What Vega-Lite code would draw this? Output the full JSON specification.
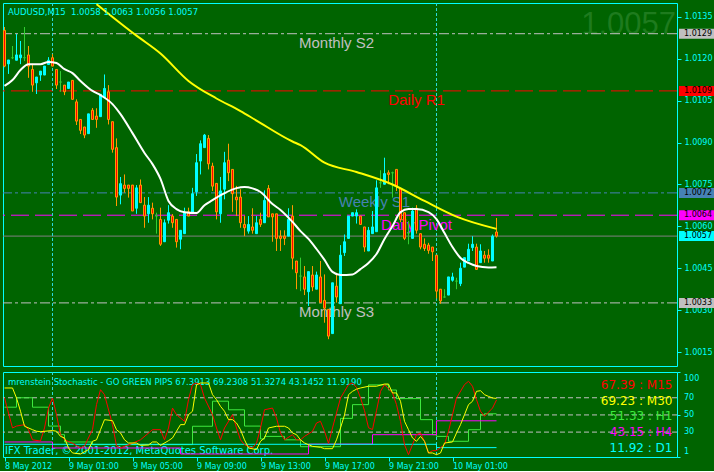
{
"$schema":"https://vega.github.io/schema/vega-lite/v6.json",
"background":"#006400",
"padding":{"left":2,"top":2,"right":0,"bottom":0},
"spacing":4,
"config":{"view":{"stroke":"#00FFFF","strokeWidth":1},"legend":{"disable":true},
 "scale":{"continuousPadding":0},
 "axis":{"labelFont":"DejaVu Sans","labelFontSize":8,"labelColor":"#00FFFF","tickColor":"#00FFFF","domain":false,"grid":false,"labelOverlap":false}},
"datasets":{
"candles":[
{"t":"2012-05-08T21:00Z","o":1.01302,"h":1.01314,"l":1.0117,"c":1.01174},
{"t":"2012-05-08T21:15Z","o":1.01182,"h":1.01196,"l":1.01146,"c":1.01196},
{"t":"2012-05-08T21:30Z","o":1.01204,"h":1.01246,"l":1.01199,"c":1.01204},
{"t":"2012-05-08T21:45Z","o":1.01195,"h":1.01289,"l":1.01195,"c":1.01214},
{"t":"2012-05-08T22:00Z","o":1.01204,"h":1.01264,"l":1.01181,"c":1.01214},
{"t":"2012-05-08T22:15Z","o":1.01204,"h":1.01314,"l":1.01192,"c":1.01204},
{"t":"2012-05-08T22:30Z","o":1.01214,"h":1.01246,"l":1.01132,"c":1.01174},
{"t":"2012-05-08T22:45Z","o":1.01162,"h":1.01182,"l":1.01082,"c":1.01106},
{"t":"2012-05-08T23:00Z","o":1.01114,"h":1.01135,"l":1.01074,"c":1.01135},
{"t":"2012-05-08T23:15Z","o":1.01142,"h":1.01156,"l":1.01121,"c":1.01156},
{"t":"2012-05-08T23:30Z","o":1.01142,"h":1.01174,"l":1.01142,"c":1.01174},
{"t":"2012-05-08T23:45Z","o":1.0118,"h":1.01206,"l":1.0118,"c":1.01195},
{"t":"2012-05-09T00:00Z","o":1.01204,"h":1.01217,"l":1.01174,"c":1.01174},
{"t":"2012-05-09T00:15Z","o":1.01162,"h":1.01162,"l":1.01092,"c":1.01106},
{"t":"2012-05-09T00:30Z","o":1.01117,"h":1.01156,"l":1.01082,"c":1.01117},
{"t":"2012-05-09T00:45Z","o":1.01106,"h":1.01106,"l":1.0107,"c":1.01082},
{"t":"2012-05-09T01:00Z","o":1.01094,"h":1.01117,"l":1.01094,"c":1.01117},
{"t":"2012-05-09T01:15Z","o":1.01123,"h":1.01123,"l":1.01055,"c":1.01055},
{"t":"2012-05-09T01:30Z","o":1.01046,"h":1.01055,"l":1.00963,"c":1.00977},
{"t":"2012-05-09T01:45Z","o":1.00983,"h":1.00983,"l":1.00931,"c":1.00944},
{"t":"2012-05-09T02:00Z","o":1.00956,"h":1.00956,"l":1.00916,"c":1.00927},
{"t":"2012-05-09T02:15Z","o":1.00932,"h":1.01003,"l":1.00932,"c":1.01003},
{"t":"2012-05-09T02:30Z","o":1.01016,"h":1.01024,"l":1.00983,"c":1.00983},
{"t":"2012-05-09T02:45Z","o":1.00995,"h":1.01023,"l":1.00953,"c":1.00983},
{"t":"2012-05-09T03:00Z","o":1.00993,"h":1.01073,"l":1.00993,"c":1.01073},
{"t":"2012-05-09T03:15Z","o":1.01061,"h":1.01144,"l":1.01061,"c":1.01094},
{"t":"2012-05-09T03:30Z","o":1.01082,"h":1.01106,"l":1.00965,"c":1.00983},
{"t":"2012-05-09T03:45Z","o":1.00975,"h":1.00975,"l":1.00864,"c":1.00876},
{"t":"2012-05-09T04:00Z","o":1.00882,"h":1.00915,"l":1.00673,"c":1.00705},
{"t":"2012-05-09T04:15Z","o":1.00712,"h":1.00777,"l":1.00679,"c":1.00753},
{"t":"2012-05-09T04:30Z","o":1.00748,"h":1.00786,"l":1.00721,"c":1.00736},
{"t":"2012-05-09T04:45Z","o":1.00748,"h":1.00748,"l":1.00703,"c":1.00736},
{"t":"2012-05-09T05:00Z","o":1.00748,"h":1.00748,"l":1.00655,"c":1.00655},
{"t":"2012-05-09T05:15Z","o":1.00665,"h":1.00748,"l":1.00645,"c":1.00738},
{"t":"2012-05-09T05:30Z","o":1.00748,"h":1.00768,"l":1.00685,"c":1.00685},
{"t":"2012-05-09T05:45Z","o":1.00676,"h":1.00705,"l":1.00595,"c":1.00637},
{"t":"2012-05-09T06:00Z","o":1.00645,"h":1.00705,"l":1.00613,"c":1.00676},
{"t":"2012-05-09T06:15Z","o":1.00665,"h":1.00685,"l":1.00625,"c":1.00645},
{"t":"2012-05-09T06:30Z","o":1.00637,"h":1.00649,"l":1.00574,"c":1.00637},
{"t":"2012-05-09T06:45Z","o":1.00625,"h":1.00667,"l":1.0053,"c":1.00536},
{"t":"2012-05-09T07:00Z","o":1.00545,"h":1.00625,"l":1.00545,"c":1.00613},
{"t":"2012-05-09T07:15Z","o":1.00622,"h":1.00676,"l":1.0061,"c":1.00649},
{"t":"2012-05-09T07:30Z","o":1.00637,"h":1.00644,"l":1.00595,"c":1.00613},
{"t":"2012-05-09T07:45Z","o":1.00625,"h":1.00625,"l":1.00524,"c":1.00545},
{"t":"2012-05-09T08:00Z","o":1.00554,"h":1.00586,"l":1.00518,"c":1.00586},
{"t":"2012-05-09T08:15Z","o":1.00574,"h":1.00667,"l":1.00574,"c":1.00649},
{"t":"2012-05-09T08:30Z","o":1.00652,"h":1.00667,"l":1.00637,"c":1.00637},
{"t":"2012-05-09T08:45Z","o":1.00649,"h":1.00738,"l":1.00645,"c":1.00717},
{"t":"2012-05-09T09:00Z","o":1.00724,"h":1.00859,"l":1.00709,"c":1.00828},
{"t":"2012-05-09T09:15Z","o":1.00834,"h":1.00908,"l":1.00786,"c":1.00896},
{"t":"2012-05-09T09:30Z","o":1.00882,"h":1.00931,"l":1.00882,"c":1.00927},
{"t":"2012-05-09T09:45Z","o":1.00915,"h":1.00927,"l":1.00804,"c":1.00824},
{"t":"2012-05-09T10:00Z","o":1.00816,"h":1.00828,"l":1.00727,"c":1.00744},
{"t":"2012-05-09T10:15Z","o":1.00754,"h":1.00754,"l":1.00625,"c":1.00652},
{"t":"2012-05-09T10:30Z","o":1.00645,"h":1.00777,"l":1.00613,"c":1.00727},
{"t":"2012-05-09T10:45Z","o":1.00733,"h":1.00867,"l":1.00697,"c":1.00828},
{"t":"2012-05-09T11:00Z","o":1.00837,"h":1.00896,"l":1.00762,"c":1.00792},
{"t":"2012-05-09T11:15Z","o":1.00804,"h":1.00804,"l":1.00652,"c":1.00717},
{"t":"2012-05-09T11:30Z","o":1.00705,"h":1.00745,"l":1.00637,"c":1.00695},
{"t":"2012-05-09T11:45Z","o":1.00705,"h":1.00733,"l":1.00595,"c":1.00613},
{"t":"2012-05-09T12:00Z","o":1.00607,"h":1.00637,"l":1.00565,"c":1.00595},
{"t":"2012-05-09T12:15Z","o":1.00583,"h":1.00637,"l":1.00574,"c":1.00607},
{"t":"2012-05-09T12:30Z","o":1.00598,"h":1.00665,"l":1.00574,"c":1.00586},
{"t":"2012-05-09T12:45Z","o":1.00574,"h":1.00637,"l":1.00574,"c":1.00613},
{"t":"2012-05-09T13:00Z","o":1.00625,"h":1.00649,"l":1.00598,"c":1.00607},
{"t":"2012-05-09T13:15Z","o":1.00613,"h":1.00729,"l":1.00613,"c":1.00693},
{"t":"2012-05-09T13:30Z","o":1.00736,"h":1.00748,"l":1.00634,"c":1.00634},
{"t":"2012-05-09T13:45Z","o":1.00645,"h":1.00645,"l":1.00545,"c":1.00634},
{"t":"2012-05-09T14:00Z","o":1.00645,"h":1.00645,"l":1.00512,"c":1.00557},
{"t":"2012-05-09T14:15Z","o":1.00565,"h":1.00586,"l":1.00512,"c":1.00557},
{"t":"2012-05-09T14:30Z","o":1.00565,"h":1.00586,"l":1.00533,"c":1.00557},
{"t":"2012-05-09T14:45Z","o":1.00565,"h":1.00665,"l":1.00565,"c":1.00625},
{"t":"2012-05-09T15:00Z","o":1.00637,"h":1.00676,"l":1.00446,"c":1.00486},
{"t":"2012-05-09T15:15Z","o":1.00476,"h":1.00476,"l":1.00375,"c":1.00434},
{"t":"2012-05-09T15:30Z","o":1.00422,"h":1.00488,"l":1.00368,"c":1.00422},
{"t":"2012-05-09T15:45Z","o":1.00419,"h":1.00458,"l":1.00354,"c":1.00375},
{"t":"2012-05-09T16:00Z","o":1.00366,"h":1.00438,"l":1.00315,"c":1.00438},
{"t":"2012-05-09T16:15Z","o":1.00426,"h":1.00458,"l":1.00368,"c":1.00383},
{"t":"2012-05-09T16:30Z","o":1.00375,"h":1.00438,"l":1.00375,"c":1.00426},
{"t":"2012-05-09T16:45Z","o":1.00419,"h":1.00476,"l":1.00327,"c":1.00327},
{"t":"2012-05-09T17:00Z","o":1.00335,"h":1.00428,"l":1.00255,"c":1.00307},
{"t":"2012-05-09T17:15Z","o":1.00303,"h":1.00303,"l":1.00196,"c":1.00207},
{"t":"2012-05-09T17:30Z","o":1.00216,"h":1.00398,"l":1.00216,"c":1.00398},
{"t":"2012-05-09T17:45Z","o":1.00386,"h":1.00434,"l":1.00327,"c":1.00347},
{"t":"2012-05-09T18:00Z","o":1.00323,"h":1.00533,"l":1.00323,"c":1.00497},
{"t":"2012-05-09T18:15Z","o":1.00506,"h":1.00571,"l":1.00494,"c":1.00545},
{"t":"2012-05-09T18:30Z","o":1.00557,"h":1.00637,"l":1.00557,"c":1.00637},
{"t":"2012-05-09T18:45Z","o":1.00637,"h":1.00649,"l":1.00637,"c":1.00649},
{"t":"2012-05-09T19:00Z","o":1.00637,"h":1.00661,"l":1.0061,"c":1.00649},
{"t":"2012-05-09T19:15Z","o":1.00637,"h":1.00637,"l":1.00607,"c":1.00607},
{"t":"2012-05-09T19:30Z","o":1.00598,"h":1.00598,"l":1.00509,"c":1.00526},
{"t":"2012-05-09T19:45Z","o":1.00512,"h":1.00598,"l":1.00512,"c":1.00586},
{"t":"2012-05-09T20:00Z","o":1.00574,"h":1.00655,"l":1.00574,"c":1.00598},
{"t":"2012-05-09T20:15Z","o":1.00581,"h":1.00765,"l":1.00581,"c":1.00738},
{"t":"2012-05-09T20:30Z","o":1.00756,"h":1.00801,"l":1.00738,"c":1.00756},
{"t":"2012-05-09T20:45Z","o":1.00751,"h":1.00846,"l":1.00751,"c":1.00789},
{"t":"2012-05-09T21:00Z","o":1.00792,"h":1.00801,"l":1.00751,"c":1.00786},
{"t":"2012-05-09T21:15Z","o":1.00792,"h":1.00796,"l":1.00703,"c":1.00792},
{"t":"2012-05-09T21:30Z","o":1.00804,"h":1.00804,"l":1.00727,"c":1.00744},
{"t":"2012-05-09T21:45Z","o":1.00736,"h":1.00736,"l":1.00615,"c":1.00625},
{"t":"2012-05-09T22:00Z","o":1.00649,"h":1.00649,"l":1.00551,"c":1.00557},
{"t":"2012-05-09T22:15Z","o":1.00576,"h":1.00619,"l":1.00536,"c":1.00576},
{"t":"2012-05-09T22:30Z","o":1.00557,"h":1.00667,"l":1.00557,"c":1.00655},
{"t":"2012-05-09T22:45Z","o":1.00665,"h":1.00676,"l":1.00574,"c":1.00586},
{"t":"2012-05-09T23:00Z","o":1.00574,"h":1.00574,"l":1.00518,"c":1.00526},
{"t":"2012-05-09T23:15Z","o":1.00536,"h":1.00557,"l":1.00512,"c":1.00521},
{"t":"2012-05-09T23:30Z","o":1.00533,"h":1.00541,"l":1.00502,"c":1.00514},
{"t":"2012-05-09T23:45Z","o":1.00526,"h":1.00526,"l":1.00476,"c":1.00509},
{"t":"2012-05-10T00:00Z","o":1.00497,"h":1.00497,"l":1.00342,"c":1.00368},
{"t":"2012-05-10T00:15Z","o":1.00375,"h":1.00375,"l":1.00323,"c":1.00333},
{"t":"2012-05-10T00:30Z","o":1.00347,"h":1.00375,"l":1.00345,"c":1.00347},
{"t":"2012-05-10T00:45Z","o":1.00354,"h":1.00419,"l":1.00354,"c":1.00419},
{"t":"2012-05-10T01:00Z","o":1.00407,"h":1.00434,"l":1.00402,"c":1.00419},
{"t":"2012-05-10T01:15Z","o":1.00404,"h":1.00416,"l":1.00375,"c":1.00404},
{"t":"2012-05-10T01:30Z","o":1.00395,"h":1.0047,"l":1.00386,"c":1.0045},
{"t":"2012-05-10T01:45Z","o":1.00454,"h":1.00488,"l":1.00454,"c":1.00488},
{"t":"2012-05-10T02:00Z","o":1.00476,"h":1.00538,"l":1.00476,"c":1.00518},
{"t":"2012-05-10T02:15Z","o":1.00524,"h":1.00565,"l":1.00512,"c":1.00536},
{"t":"2012-05-10T02:30Z","o":1.00526,"h":1.00538,"l":1.00446,"c":1.00446},
{"t":"2012-05-10T02:45Z","o":1.0047,"h":1.00536,"l":1.0047,"c":1.00512},
{"t":"2012-05-10T03:00Z","o":1.00497,"h":1.00512,"l":1.0047,"c":1.00486},
{"t":"2012-05-10T03:15Z","o":1.00497,"h":1.00518,"l":1.0047,"c":1.00486},
{"t":"2012-05-10T03:30Z","o":1.00476,"h":1.00571,"l":1.00476,"c":1.00565},
{"t":"2012-05-10T03:45Z","o":1.0058,"h":1.0063,"l":1.0056,"c":1.005652}
],
"slow":[
{"t":"2012-05-09T02:45Z","v":1.01396},{"t":"2012-05-09T03:45Z","v":1.0135},{"t":"2012-05-09T05:15Z","v":1.01283},
{"t":"2012-05-09T06:45Z","v":1.01219},{"t":"2012-05-09T08:30Z","v":1.01121},{"t":"2012-05-09T10:15Z","v":1.01058},
{"t":"2012-05-09T11:45Z","v":1.01013},{"t":"2012-05-09T12:45Z","v":1.00979},{"t":"2012-05-09T15:00Z","v":1.00904},
{"t":"2012-05-09T15:30Z","v":1.00891},{"t":"2012-05-09T17:00Z","v":1.00828},{"t":"2012-05-09T19:00Z","v":1.00795},
{"t":"2012-05-09T21:15Z","v":1.0075},{"t":"2012-05-09T23:15Z","v":1.00691},{"t":"2012-05-10T01:15Z","v":1.00635},
{"t":"2012-05-10T03:45Z","v":1.00591}
],
"fast":[
{"t":"2012-05-08T21:00Z","v":1.01103},{"t":"2012-05-08T21:30Z","v":1.01124},{"t":"2012-05-08T22:00Z","v":1.0116},
{"t":"2012-05-08T22:30Z","v":1.01181},{"t":"2012-05-08T23:15Z","v":1.01181},{"t":"2012-05-08T23:45Z","v":1.01189},
{"t":"2012-05-09T00:15Z","v":1.01185},{"t":"2012-05-09T00:45Z","v":1.01163},{"t":"2012-05-09T01:15Z","v":1.01149},
{"t":"2012-05-09T01:45Z","v":1.01121},{"t":"2012-05-09T02:30Z","v":1.01085},{"t":"2012-05-09T03:00Z","v":1.0107},
{"t":"2012-05-09T03:45Z","v":1.01038},{"t":"2012-05-09T04:15Z","v":1.01002},{"t":"2012-05-09T05:00Z","v":1.00934},
{"t":"2012-05-09T05:45Z","v":1.00863},{"t":"2012-05-09T06:15Z","v":1.00823},{"t":"2012-05-09T06:45Z","v":1.0077},
{"t":"2012-05-09T07:15Z","v":1.00691},{"t":"2012-05-09T07:45Z","v":1.00662},{"t":"2012-05-09T08:15Z","v":1.00651},
{"t":"2012-05-09T09:00Z","v":1.00648},{"t":"2012-05-09T09:30Z","v":1.00676},{"t":"2012-05-09T10:00Z","v":1.00694},
{"t":"2012-05-09T10:45Z","v":1.00719},{"t":"2012-05-09T11:30Z","v":1.00737},{"t":"2012-05-09T12:00Z","v":1.00741},
{"t":"2012-05-09T12:30Z","v":1.00736},{"t":"2012-05-09T13:00Z","v":1.00723},{"t":"2012-05-09T13:45Z","v":1.0068},
{"t":"2012-05-09T14:15Z","v":1.00659},{"t":"2012-05-09T15:00Z","v":1.00616},{"t":"2012-05-09T15:30Z","v":1.00583},
{"t":"2012-05-09T16:00Z","v":1.00555},{"t":"2012-05-09T16:30Z","v":1.00519},{"t":"2012-05-09T17:00Z","v":1.0048},
{"t":"2012-05-09T17:30Z","v":1.00437},{"t":"2012-05-09T18:00Z","v":1.00426},{"t":"2012-05-09T18:45Z","v":1.00428},
{"t":"2012-05-09T19:15Z","v":1.00447},{"t":"2012-05-09T19:45Z","v":1.00469},{"t":"2012-05-09T20:15Z","v":1.00501},
{"t":"2012-05-09T20:45Z","v":1.00555},{"t":"2012-05-09T21:15Z","v":1.00601},{"t":"2012-05-09T21:45Z","v":1.00651},
{"t":"2012-05-09T22:15Z","v":1.00662},{"t":"2012-05-09T22:45Z","v":1.00662},{"t":"2012-05-09T23:30Z","v":1.00651},
{"t":"2012-05-10T00:00Z","v":1.00626},{"t":"2012-05-10T00:30Z","v":1.00576},{"t":"2012-05-10T01:00Z","v":1.00526},
{"t":"2012-05-10T01:30Z","v":1.00487},{"t":"2012-05-10T02:00Z","v":1.00469},{"t":"2012-05-10T02:30Z","v":1.00458},
{"t":"2012-05-10T03:15Z","v":1.00453},{"t":"2012-05-10T03:45Z","v":1.00454}
],
"levels":[
{"name":"Monthly S2","price":1.0129},{"name":"Daily R1","price":1.010852},{"name":"Weekly S1","price":1.0072},
{"name":"Daily Pivot","price":1.0064},{"name":"Bid","price":1.005652},{"name":"Monthly S3","price":1.00326}
],
"days":[{"t":"2012-05-09T00:00Z"},{"t":"2012-05-10T00:00Z"}],
"stochLevels":[{"lv":70},{"lv":50},{"lv":30}],
"stochTicks":[{"lv":100},{"lv":70},{"lv":50},{"lv":30},{"lv":1}],
"legend":[{"tf":"M15","value":67.39},{"tf":"M30","value":69.23},{"tf":"H1","value":51.33},{"tf":"H4","value":43.15},{"tf":"D1","value":11.92}],
"stoch":[
{"t":"2012-05-08T21:00Z","tf":"M15","v":69.7},{"t":"2012-05-08T21:30Z","tf":"M15","v":34.8},{"t":"2012-05-08T21:45Z","tf":"M15","v":37},
{"t":"2012-05-08T22:15Z","tf":"M15","v":38.7},{"t":"2012-05-08T22:30Z","tf":"M15","v":32.8},{"t":"2012-05-08T22:45Z","tf":"M15","v":21},
{"t":"2012-05-08T23:15Z","tf":"M15","v":19.6},{"t":"2012-05-08T23:30Z","tf":"M15","v":34.8},{"t":"2012-05-08T23:45Z","tf":"M15","v":58},
{"t":"2012-05-09T00:00Z","tf":"M15","v":69.7},{"t":"2012-05-09T00:15Z","tf":"M15","v":50.3},{"t":"2012-05-09T00:30Z","tf":"M15","v":27},
{"t":"2012-05-09T00:45Z","tf":"M15","v":21},{"t":"2012-05-09T01:15Z","tf":"M15","v":17},{"t":"2012-05-09T01:45Z","tf":"M15","v":11.5},
{"t":"2012-05-09T02:00Z","tf":"M15","v":13.9},{"t":"2012-05-09T02:30Z","tf":"M15","v":32.8},{"t":"2012-05-09T02:45Z","tf":"M15","v":62},
{"t":"2012-05-09T03:00Z","tf":"M15","v":79.4},{"t":"2012-05-09T03:15Z","tf":"M15","v":73.6},{"t":"2012-05-09T03:45Z","tf":"M15","v":38.7},
{"t":"2012-05-09T04:00Z","tf":"M15","v":13.9},{"t":"2012-05-09T04:15Z","tf":"M15","v":11.5},{"t":"2012-05-09T05:00Z","tf":"M15","v":17},
{"t":"2012-05-09T05:30Z","tf":"M15","v":21},{"t":"2012-05-09T06:15Z","tf":"M15","v":32.8},{"t":"2012-05-09T06:45Z","tf":"M15","v":32.8},
{"t":"2012-05-09T07:00Z","tf":"M15","v":21},{"t":"2012-05-09T07:15Z","tf":"M15","v":34.8},{"t":"2012-05-09T07:30Z","tf":"M15","v":58},
{"t":"2012-05-09T07:45Z","tf":"M15","v":50.3},{"t":"2012-05-09T08:15Z","tf":"M15","v":42.6},{"t":"2012-05-09T08:30Z","tf":"M15","v":67.8},
{"t":"2012-05-09T08:45Z","tf":"M15","v":85.3},{"t":"2012-05-09T09:00Z","tf":"M15","v":87.2},{"t":"2012-05-09T09:15Z","tf":"M15","v":85.3},
{"t":"2012-05-09T09:30Z","tf":"M15","v":69.7},{"t":"2012-05-09T10:00Z","tf":"M15","v":50.3},{"t":"2012-05-09T10:15Z","tf":"M15","v":34.8},
{"t":"2012-05-09T10:30Z","tf":"M15","v":21},{"t":"2012-05-09T10:45Z","tf":"M15","v":34.8},{"t":"2012-05-09T11:15Z","tf":"M15","v":50.3},
{"t":"2012-05-09T11:30Z","tf":"M15","v":34.8},{"t":"2012-05-09T11:45Z","tf":"M15","v":21},{"t":"2012-05-09T12:00Z","tf":"M15","v":15.4},
{"t":"2012-05-09T12:30Z","tf":"M15","v":11.5},{"t":"2012-05-09T12:45Z","tf":"M15","v":17},{"t":"2012-05-09T13:00Z","tf":"M15","v":34.8},
{"t":"2012-05-09T13:15Z","tf":"M15","v":56},{"t":"2012-05-09T13:45Z","tf":"M15","v":58},{"t":"2012-05-09T14:00Z","tf":"M15","v":46.4},
{"t":"2012-05-09T14:15Z","tf":"M15","v":29},{"t":"2012-05-09T14:30Z","tf":"M15","v":21},{"t":"2012-05-09T15:00Z","tf":"M15","v":27},
{"t":"2012-05-09T15:15Z","tf":"M15","v":21},{"t":"2012-05-09T15:30Z","tf":"M15","v":21},{"t":"2012-05-09T15:45Z","tf":"M15","v":25},
{"t":"2012-05-09T16:15Z","tf":"M15","v":31},{"t":"2012-05-09T16:30Z","tf":"M15","v":40.6},{"t":"2012-05-09T16:45Z","tf":"M15","v":42.6},
{"t":"2012-05-09T17:00Z","tf":"M15","v":31},{"t":"2012-05-09T17:15Z","tf":"M15","v":17},{"t":"2012-05-09T17:30Z","tf":"M15","v":34.8},
{"t":"2012-05-09T18:00Z","tf":"M15","v":69.7},{"t":"2012-05-09T18:15Z","tf":"M15","v":77.5},{"t":"2012-05-09T18:30Z","tf":"M15","v":85.3},
{"t":"2012-05-09T18:45Z","tf":"M15","v":87.2},{"t":"2012-05-09T19:00Z","tf":"M15","v":82},{"t":"2012-05-09T19:15Z","tf":"M15","v":70},
{"t":"2012-05-09T19:30Z","tf":"M15","v":55},{"t":"2012-05-09T19:45Z","tf":"M15","v":35},{"t":"2012-05-09T20:00Z","tf":"M15","v":33},
{"t":"2012-05-09T20:15Z","tf":"M15","v":55},{"t":"2012-05-09T20:30Z","tf":"M15","v":77.5},{"t":"2012-05-09T20:45Z","tf":"M15","v":85.3},
{"t":"2012-05-09T21:15Z","tf":"M15","v":75.6},{"t":"2012-05-09T21:30Z","tf":"M15","v":62},{"t":"2012-05-09T21:45Z","tf":"M15","v":42.6},
{"t":"2012-05-09T22:00Z","tf":"M15","v":15.4},{"t":"2012-05-09T22:15Z","tf":"M15","v":3.7},{"t":"2012-05-09T22:30Z","tf":"M15","v":15.4},
{"t":"2012-05-09T22:45Z","tf":"M15","v":27},{"t":"2012-05-09T23:00Z","tf":"M15","v":29},{"t":"2012-05-09T23:15Z","tf":"M15","v":19.3},
{"t":"2012-05-09T23:30Z","tf":"M15","v":5.7},{"t":"2012-05-09T23:45Z","tf":"M15","v":8.4},{"t":"2012-05-10T00:00Z","tf":"M15","v":8.4},
{"t":"2012-05-10T00:30Z","tf":"M15","v":15.4},{"t":"2012-05-10T00:45Z","tf":"M15","v":31},{"t":"2012-05-10T01:00Z","tf":"M15","v":50.3},
{"t":"2012-05-10T01:15Z","tf":"M15","v":69.7},{"t":"2012-05-10T01:45Z","tf":"M15","v":85.3},{"t":"2012-05-10T02:00Z","tf":"M15","v":89.2},
{"t":"2012-05-10T02:15Z","tf":"M15","v":83.4},{"t":"2012-05-10T02:30Z","tf":"M15","v":67.8},{"t":"2012-05-10T02:45Z","tf":"M15","v":54.3},
{"t":"2012-05-10T03:00Z","tf":"M15","v":48.4},{"t":"2012-05-10T03:30Z","tf":"M15","v":58},{"t":"2012-05-10T03:45Z","tf":"M15","v":67.39},
{"t":"2012-05-08T21:00Z","tf":"M30","v":81.4},{"t":"2012-05-08T21:30Z","tf":"M30","v":81.4},{"t":"2012-05-08T21:45Z","tf":"M30","v":69.7},
{"t":"2012-05-08T22:00Z","tf":"M30","v":54.3},{"t":"2012-05-08T22:15Z","tf":"M30","v":36.8},{"t":"2012-05-08T22:45Z","tf":"M30","v":32.8},
{"t":"2012-05-08T23:00Z","tf":"M30","v":31},{"t":"2012-05-08T23:15Z","tf":"M30","v":30.5},{"t":"2012-05-09T00:00Z","tf":"M30","v":31.8},
{"t":"2012-05-09T00:15Z","tf":"M30","v":31},{"t":"2012-05-09T00:30Z","tf":"M30","v":25},{"t":"2012-05-09T00:45Z","tf":"M30","v":23.2},
{"t":"2012-05-09T01:00Z","tf":"M30","v":11.5},{"t":"2012-05-09T01:15Z","tf":"M30","v":5.7},{"t":"2012-05-09T01:45Z","tf":"M30","v":4.5},
{"t":"2012-05-09T02:15Z","tf":"M30","v":9.6},{"t":"2012-05-09T02:30Z","tf":"M30","v":19.3},{"t":"2012-05-09T02:45Z","tf":"M30","v":21},
{"t":"2012-05-09T03:00Z","tf":"M30","v":32.8},{"t":"2012-05-09T03:15Z","tf":"M30","v":44.5},{"t":"2012-05-09T03:45Z","tf":"M30","v":43.3},
{"t":"2012-05-09T04:00Z","tf":"M30","v":32.8},{"t":"2012-05-09T04:15Z","tf":"M30","v":29},{"t":"2012-05-09T04:30Z","tf":"M30","v":21},
{"t":"2012-05-09T04:45Z","tf":"M30","v":17.3},{"t":"2012-05-09T05:15Z","tf":"M30","v":17.3},{"t":"2012-05-09T05:30Z","tf":"M30","v":14.6},
{"t":"2012-05-09T06:00Z","tf":"M30","v":15},{"t":"2012-05-09T06:15Z","tf":"M30","v":18.5},{"t":"2012-05-09T06:30Z","tf":"M30","v":18.5},
{"t":"2012-05-09T06:45Z","tf":"M30","v":14.6},{"t":"2012-05-09T07:15Z","tf":"M30","v":20},{"t":"2012-05-09T07:30Z","tf":"M30","v":23.2},
{"t":"2012-05-09T07:45Z","tf":"M30","v":31},{"t":"2012-05-09T08:00Z","tf":"M30","v":38.7},{"t":"2012-05-09T08:15Z","tf":"M30","v":38.7},
{"t":"2012-05-09T08:30Z","tf":"M30","v":50.3},{"t":"2012-05-09T08:45Z","tf":"M30","v":54.3},{"t":"2012-05-09T09:00Z","tf":"M30","v":85},
{"t":"2012-05-09T09:15Z","tf":"M30","v":87.2},{"t":"2012-05-09T09:45Z","tf":"M30","v":87.2},{"t":"2012-05-09T10:00Z","tf":"M30","v":73.6},
{"t":"2012-05-09T10:15Z","tf":"M30","v":67.8},{"t":"2012-05-09T10:30Z","tf":"M30","v":60},{"t":"2012-05-09T10:45Z","tf":"M30","v":54.3},
{"t":"2012-05-09T11:00Z","tf":"M30","v":44.5},{"t":"2012-05-09T11:15Z","tf":"M30","v":44.5},{"t":"2012-05-09T11:30Z","tf":"M30","v":40.6},
{"t":"2012-05-09T11:45Z","tf":"M30","v":32.8},{"t":"2012-05-09T12:00Z","tf":"M30","v":21},{"t":"2012-05-09T12:15Z","tf":"M30","v":11.5},
{"t":"2012-05-09T12:45Z","tf":"M30","v":9.6},{"t":"2012-05-09T13:00Z","tf":"M30","v":19.3},{"t":"2012-05-09T13:15Z","tf":"M30","v":23.2},
{"t":"2012-05-09T13:30Z","tf":"M30","v":34.8},{"t":"2012-05-09T14:00Z","tf":"M30","v":36.8},{"t":"2012-05-09T14:30Z","tf":"M30","v":36.8},
{"t":"2012-05-09T14:45Z","tf":"M30","v":34.8},{"t":"2012-05-09T15:00Z","tf":"M30","v":29},{"t":"2012-05-09T15:15Z","tf":"M30","v":27},
{"t":"2012-05-09T15:30Z","tf":"M30","v":21},{"t":"2012-05-09T15:45Z","tf":"M30","v":17.3},{"t":"2012-05-09T16:15Z","tf":"M30","v":13.4},
{"t":"2012-05-09T16:45Z","tf":"M30","v":12.3},{"t":"2012-05-09T17:00Z","tf":"M30","v":10.7},{"t":"2012-05-09T17:30Z","tf":"M30","v":10.7},
{"t":"2012-05-09T17:45Z","tf":"M30","v":21},{"t":"2012-05-09T18:00Z","tf":"M30","v":34.8},{"t":"2012-05-09T18:15Z","tf":"M30","v":50},
{"t":"2012-05-09T18:30Z","tf":"M30","v":73.6},{"t":"2012-05-09T18:45Z","tf":"M30","v":77.5},{"t":"2012-05-09T19:00Z","tf":"M30","v":80},
{"t":"2012-05-09T19:15Z","tf":"M30","v":81.4},{"t":"2012-05-09T19:45Z","tf":"M30","v":83.4},{"t":"2012-05-09T20:15Z","tf":"M30","v":83.4},
{"t":"2012-05-09T20:45Z","tf":"M30","v":86},{"t":"2012-05-09T21:00Z","tf":"M30","v":86},{"t":"2012-05-09T21:15Z","tf":"M30","v":75.6},
{"t":"2012-05-09T21:30Z","tf":"M30","v":75.6},{"t":"2012-05-09T21:45Z","tf":"M30","v":65.9},{"t":"2012-05-09T22:00Z","tf":"M30","v":42.6},
{"t":"2012-05-09T22:15Z","tf":"M30","v":32.8},{"t":"2012-05-09T22:30Z","tf":"M30","v":23.2},{"t":"2012-05-09T22:45Z","tf":"M30","v":19.3},
{"t":"2012-05-09T23:00Z","tf":"M30","v":25},{"t":"2012-05-09T23:15Z","tf":"M30","v":19.3},{"t":"2012-05-09T23:30Z","tf":"M30","v":5.7},
{"t":"2012-05-09T23:45Z","tf":"M30","v":5.7},{"t":"2012-05-10T00:00Z","tf":"M30","v":3.7},{"t":"2012-05-10T00:15Z","tf":"M30","v":5.7},
{"t":"2012-05-10T00:30Z","tf":"M30","v":17.3},{"t":"2012-05-10T01:00Z","tf":"M30","v":18.5},{"t":"2012-05-10T01:15Z","tf":"M30","v":29},
{"t":"2012-05-10T01:30Z","tf":"M30","v":38.7},{"t":"2012-05-10T01:45Z","tf":"M30","v":50.3},{"t":"2012-05-10T02:00Z","tf":"M30","v":62},
{"t":"2012-05-10T02:15Z","tf":"M30","v":65.9},{"t":"2012-05-10T02:30Z","tf":"M30","v":77.5},{"t":"2012-05-10T02:45Z","tf":"M30","v":78.2},
{"t":"2012-05-10T03:00Z","tf":"M30","v":73.6},{"t":"2012-05-10T03:15Z","tf":"M30","v":71.6},{"t":"2012-05-10T03:30Z","tf":"M30","v":69.7},
{"t":"2012-05-10T03:45Z","tf":"M30","v":69.23},
{"t":"2012-05-08T21:00Z","tf":"H1","v":59},{"t":"2012-05-08T21:45Z","tf":"H1","v":70},{"t":"2012-05-08T22:45Z","tf":"H1","v":59},
{"t":"2012-05-08T23:45Z","tf":"H1","v":37},{"t":"2012-05-09T00:30Z","tf":"H1","v":27},{"t":"2012-05-09T00:45Z","tf":"H1","v":18.5},
{"t":"2012-05-09T02:30Z","tf":"H1","v":15.4},{"t":"2012-05-09T08:45Z","tf":"H1","v":36.8},{"t":"2012-05-09T10:00Z","tf":"H1","v":66},
{"t":"2012-05-09T11:00Z","tf":"H1","v":56},{"t":"2012-05-09T12:00Z","tf":"H1","v":37},{"t":"2012-05-09T13:00Z","tf":"H1","v":22},
{"t":"2012-05-09T13:15Z","tf":"H1","v":25},{"t":"2012-05-09T14:30Z","tf":"H1","v":21},{"t":"2012-05-09T15:30Z","tf":"H1","v":13},
{"t":"2012-05-09T18:00Z","tf":"H1","v":46},{"t":"2012-05-09T18:45Z","tf":"H1","v":62},{"t":"2012-05-09T19:45Z","tf":"H1","v":85},
{"t":"2012-05-09T21:00Z","tf":"H1","v":79},{"t":"2012-05-09T21:30Z","tf":"H1","v":69},{"t":"2012-05-09T23:00Z","tf":"H1","v":44.5},
{"t":"2012-05-09T23:45Z","tf":"H1","v":27},{"t":"2012-05-10T00:00Z","tf":"H1","v":25},{"t":"2012-05-10T00:45Z","tf":"H1","v":19.3},
{"t":"2012-05-10T02:00Z","tf":"H1","v":32.8},{"t":"2012-05-10T02:45Z","tf":"H1","v":50.3},{"t":"2012-05-10T03:00Z","tf":"H1","v":51.33},
{"t":"2012-05-10T03:45Z","tf":"H1","v":51.33},
{"t":"2012-05-08T21:00Z","tf":"H4","v":18.5},{"t":"2012-05-09T00:00Z","tf":"H4","v":11.5},{"t":"2012-05-09T08:00Z","tf":"H4","v":4.5},
{"t":"2012-05-09T16:00Z","tf":"H4","v":16},{"t":"2012-05-09T20:00Z","tf":"H4","v":27},{"t":"2012-05-10T00:00Z","tf":"H4","v":43.15},
{"t":"2012-05-10T03:45Z","tf":"H4","v":43.15},
{"t":"2012-05-08T21:00Z","tf":"D1","v":15.8},{"t":"2012-05-10T00:00Z","tf":"D1","v":11.92},{"t":"2012-05-10T03:45Z","tf":"D1","v":11.92}
]
},
"vconcat":[
{
"width":674,"height":363,
"layer":[
{"data":{"values":[{}]},
 "mark":{"type":"text","text":"1.0057","align":"right","baseline":"alphabetic","font":"Liberation Sans","fontSize":31,"fill":"#1E7B1E"},
 "encoding":{
  "x":{"datum":{"year":2012,"month":5,"date":10,"hours":14,"minutes":58,"seconds":7,"milliseconds":500,"utc":true},"type":"temporal","axis":null,
       "scale":{"type":"utc","padding":0,"domain":[{"year":2012,"month":5,"date":8,"hours":20,"minutes":54,"seconds":22,"milliseconds":500,"utc":true},{"year":2012,"month":5,"date":10,"hours":15,"minutes":1,"seconds":52,"milliseconds":500,"utc":true}]}},
  "y":{"datum":1.01289,"type":"quantitative","scale":{"domain":[1.001,1.014],"zero":false,"nice":false,"padding":0}}}},
{"data":{"name":"levels"},
 "mark":{"type":"rule","strokeWidth":1},
 "encoding":{
  "y":{"field":"price","type":"quantitative","scale":{"domain":[1.001,1.014],"zero":false,"nice":false,"padding":0},
       "axis":{"orient":"right","title":null,"values":[1.0015,1.003,1.0045,1.006,1.0075,1.009,1.0105,1.012,1.0135],"format":".4f","tickSize":4,"labelPadding":3,"labelBaseline":"middle","labelOverlap":false}},
  "stroke":{"field":"name","type":"nominal","scale":{"domain":["Monthly S2","Daily R1","Weekly S1","Daily Pivot","Bid","Monthly S3"],"range":["#C0C0C0","#FF0000","#4682B4","#FF00FF","#808080","#C0C0C0"]}},
  "strokeDash":{"field":"name","type":"nominal","scale":{"domain":["Monthly S2","Daily R1","Weekly S1","Daily Pivot","Bid","Monthly S3"],"range":[[10,3,3,3],[18,6],[10,3,3,3],[18,6],[1,0],[10,3,3,3]]}}}},
{"data":{"name":"days"},
 "mark":{"type":"rule","color":"#2BD9D9","strokeDash":[3,2],"strokeWidth":1},
 "encoding":{"x":{"field":"t","type":"temporal","axis":null,
       "scale":{"type":"utc","padding":0,"domain":[{"year":2012,"month":5,"date":8,"hours":20,"minutes":54,"seconds":22,"milliseconds":500,"utc":true},{"year":2012,"month":5,"date":10,"hours":15,"minutes":1,"seconds":52,"milliseconds":500,"utc":true}]}}}},
{"data":{"name":"levels"},
 "transform":[{"filter":"datum.name=='Monthly S2' || datum.name=='Monthly S3'"}],
 "mark":{"type":"text","align":"center","baseline":"alphabetic","dy":14.5,"font":"Liberation Sans","fontSize":15},
 "encoding":{
  "x":{"datum":{"year":2012,"month":5,"date":9,"hours":17,"minutes":45,"utc":true},"type":"temporal","axis":null,
       "scale":{"type":"utc","padding":0,"domain":[{"year":2012,"month":5,"date":8,"hours":20,"minutes":54,"seconds":22,"milliseconds":500,"utc":true},{"year":2012,"month":5,"date":10,"hours":15,"minutes":1,"seconds":52,"milliseconds":500,"utc":true}]}},
  "y":{"field":"price","type":"quantitative","scale":{"domain":[1.001,1.014],"zero":false,"nice":false,"padding":0}},
  "text":{"field":"name","type":"nominal"},
  "fill":{"field":"name","type":"nominal","scale":{"domain":["Monthly S2","Daily R1","Weekly S1","Daily Pivot","Bid","Monthly S3"],"range":["#C0C0C0","#FF0000","#4682B4","#FF00FF","#00FFFF","#C0C0C0"]}}}},
{"data":{"name":"levels"},
 "transform":[{"filter":"datum.name=='Daily R1' || datum.name=='Daily Pivot'"}],
 "mark":{"type":"text","align":"center","baseline":"alphabetic","dy":14.5,"font":"Liberation Sans","fontSize":15},
 "encoding":{
  "x":{"datum":{"year":2012,"month":5,"date":9,"hours":22,"minutes":45,"utc":true},"type":"temporal","axis":null,
       "scale":{"type":"utc","padding":0,"domain":[{"year":2012,"month":5,"date":8,"hours":20,"minutes":54,"seconds":22,"milliseconds":500,"utc":true},{"year":2012,"month":5,"date":10,"hours":15,"minutes":1,"seconds":52,"milliseconds":500,"utc":true}]}},
  "y":{"field":"price","type":"quantitative","scale":{"domain":[1.001,1.014],"zero":false,"nice":false,"padding":0}},
  "text":{"field":"name","type":"nominal"},
  "fill":{"field":"name","type":"nominal","scale":{"domain":["Monthly S2","Daily R1","Weekly S1","Daily Pivot","Bid","Monthly S3"],"range":["#C0C0C0","#FF0000","#4682B4","#FF00FF","#00FFFF","#C0C0C0"]}}}},
{"data":{"name":"levels"},
 "transform":[{"filter":"datum.name=='Weekly S1'"}],
 "mark":{"type":"text","align":"center","baseline":"alphabetic","dy":14.5,"font":"Liberation Sans","fontSize":15},
 "encoding":{
  "x":{"datum":{"year":2012,"month":5,"date":9,"hours":20,"minutes":7,"seconds":30,"utc":true},"type":"temporal","axis":null,
       "scale":{"type":"utc","padding":0,"domain":[{"year":2012,"month":5,"date":8,"hours":20,"minutes":54,"seconds":22,"milliseconds":500,"utc":true},{"year":2012,"month":5,"date":10,"hours":15,"minutes":1,"seconds":52,"milliseconds":500,"utc":true}]}},
  "y":{"field":"price","type":"quantitative","scale":{"domain":[1.001,1.014],"zero":false,"nice":false,"padding":0}},
  "text":{"field":"name","type":"nominal"},
  "fill":{"field":"name","type":"nominal","scale":{"domain":["Monthly S2","Daily R1","Weekly S1","Daily Pivot","Bid","Monthly S3"],"range":["#C0C0C0","#FF0000","#4682B4","#FF00FF","#00FFFF","#C0C0C0"]}}}},
{"data":{"name":"candles"},
 "layer":[
 {"mark":{"type":"rule","strokeWidth":1,"clip":true},
  "encoding":{
   "x":{"field":"t","type":"temporal","axis":null,
       "scale":{"type":"utc","padding":0,"domain":[{"year":2012,"month":5,"date":8,"hours":20,"minutes":54,"seconds":22,"milliseconds":500,"utc":true},{"year":2012,"month":5,"date":10,"hours":15,"minutes":1,"seconds":52,"milliseconds":500,"utc":true}]}},
   "y":{"field":"l","type":"quantitative","scale":{"domain":[1.001,1.014],"zero":false,"nice":false,"padding":0}},
   "y2":{"field":"h"},
   "stroke":{"condition":[{"test":"datum.c>datum.o","value":"#00FFFF"},{"test":"datum.c<datum.o","value":"#FF9900"}],"value":"#32CD32"}}},
 {"mark":{"type":"bar","size":2,"strokeWidth":1,"clip":true},
  "encoding":{
   "x":{"field":"t","type":"temporal","axis":null,
       "scale":{"type":"utc","padding":0,"domain":[{"year":2012,"month":5,"date":8,"hours":20,"minutes":54,"seconds":22,"milliseconds":500,"utc":true},{"year":2012,"month":5,"date":10,"hours":15,"minutes":1,"seconds":52,"milliseconds":500,"utc":true}]}},
   "y":{"field":"o","type":"quantitative","scale":{"domain":[1.001,1.014],"zero":false,"nice":false,"padding":0}},
   "y2":{"field":"c"},
   "fill":{"condition":[{"test":"datum.c>datum.o","value":"#00FFFF"},{"test":"datum.c<datum.o","value":"#FF0000"}],"value":"#32CD32"},
   "stroke":{"condition":[{"test":"datum.c>datum.o","value":"#00FFFF"},{"test":"datum.c<datum.o","value":"#FF9900"}],"value":"#32CD32"}}}
 ]},
{"data":{"name":"slow"},
 "mark":{"type":"line","color":"#FFFF00","strokeWidth":2,"interpolate":"monotone","clip":true},
 "encoding":{
  "x":{"field":"t","type":"temporal","axis":null,
       "scale":{"type":"utc","padding":0,"domain":[{"year":2012,"month":5,"date":8,"hours":20,"minutes":54,"seconds":22,"milliseconds":500,"utc":true},{"year":2012,"month":5,"date":10,"hours":15,"minutes":1,"seconds":52,"milliseconds":500,"utc":true}]}},
  "y":{"field":"v","type":"quantitative","scale":{"domain":[1.001,1.014],"zero":false,"nice":false,"padding":0}}}},
{"data":{"name":"fast"},
 "mark":{"type":"line","color":"#FFFFFF","strokeWidth":2,"interpolate":"monotone","clip":true},
 "encoding":{
  "x":{"field":"t","type":"temporal","axis":null,
       "scale":{"type":"utc","padding":0,"domain":[{"year":2012,"month":5,"date":8,"hours":20,"minutes":54,"seconds":22,"milliseconds":500,"utc":true},{"year":2012,"month":5,"date":10,"hours":15,"minutes":1,"seconds":52,"milliseconds":500,"utc":true}]}},
  "y":{"field":"v","type":"quantitative","scale":{"domain":[1.001,1.014],"zero":false,"nice":false,"padding":0}}}},
{"data":{"values":[{}]},
 "mark":{"type":"text","text":"AUDUSD,M15\u00a0 1.0058 1.0063 1.0056 1.0057","align":"left","baseline":"alphabetic","dx":3.5,"font":"DejaVu Sans","fontSize":8.5,"fill":"#00FFFF"},
 "encoding":{
  "x":{"datum":{"year":2012,"month":5,"date":8,"hours":21,"minutes":0,"utc":true},"type":"temporal","axis":null,
       "scale":{"type":"utc","padding":0,"domain":[{"year":2012,"month":5,"date":8,"hours":20,"minutes":54,"seconds":22,"milliseconds":500,"utc":true},{"year":2012,"month":5,"date":10,"hours":15,"minutes":1,"seconds":52,"milliseconds":500,"utc":true}]}},
  "y":{"datum":1.01357,"type":"quantitative","scale":{"domain":[1.001,1.014],"zero":false,"nice":false,"padding":0}}}},
{"data":{"name":"levels"},
 "mark":{"type":"tick","orient":"horizontal","size":36,"thickness":10,"opacity":1,"clip":false},
 "encoding":{
  "x":{"datum":{"year":2012,"month":5,"date":10,"hours":16,"minutes":16,"seconds":52,"milliseconds":500,"utc":true},"type":"temporal","axis":null,
       "scale":{"type":"utc","padding":0,"domain":[{"year":2012,"month":5,"date":8,"hours":20,"minutes":54,"seconds":22,"milliseconds":500,"utc":true},{"year":2012,"month":5,"date":10,"hours":15,"minutes":1,"seconds":52,"milliseconds":500,"utc":true}]}},
  "y":{"field":"price","type":"quantitative","scale":{"domain":[1.001,1.014],"zero":false,"nice":false,"padding":0}},
  "fill":{"field":"name","type":"nominal","scale":{"domain":["Monthly S2","Daily R1","Weekly S1","Daily Pivot","Bid","Monthly S3"],"range":["#C0C0C0","#FF0000","#4682B4","#FF00FF","#00FFFF","#C0C0C0"]}}}},
{"data":{"name":"levels"},
 "mark":{"type":"text","align":"left","baseline":"middle","dx":5,"font":"DejaVu Sans","fontSize":8,"fill":"#000000","clip":false},
 "encoding":{
  "x":{"datum":{"year":2012,"month":5,"date":10,"hours":15,"minutes":9,"seconds":22,"milliseconds":500,"utc":true},"type":"temporal","axis":null,
       "scale":{"type":"utc","padding":0,"domain":[{"year":2012,"month":5,"date":8,"hours":20,"minutes":54,"seconds":22,"milliseconds":500,"utc":true},{"year":2012,"month":5,"date":10,"hours":15,"minutes":1,"seconds":52,"milliseconds":500,"utc":true}]}},
  "y":{"field":"price","type":"quantitative","scale":{"domain":[1.001,1.014],"zero":false,"nice":false,"padding":0}},
  "text":{"field":"price","type":"quantitative","format":".4f"}}}
]
},
{
"width":674,"height":85,
"layer":[
{"layer":[
 {"data":{"name":"stochLevels"},
  "mark":{"type":"rule","color":"#C0C0C0","strokeDash":[5,3],"strokeWidth":1},
  "encoding":{"y":{"field":"lv","type":"quantitative","scale":{"domain":[1,100],"zero":false,"nice":false,"padding":0},
     "axis":{"orient":"right","title":null,"values":[1,30,50,70,100],"labels":false,"tickSize":3}}}},
 {"data":{"name":"stochTicks"},
  "transform":[{"filter":"datum.lv > 1 && datum.lv < 100"}],
  "mark":{"type":"text","align":"left","baseline":"middle","dx":0,"font":"DejaVu Sans","fontSize":8,"fill":"#00FFFF","clip":false},
  "encoding":{
   "x":{"datum":{"year":2012,"month":5,"date":10,"hours":15,"minutes":28,"seconds":7,"milliseconds":500,"utc":true},"type":"temporal",
       "scale":{"type":"utc","padding":0,"domain":[{"year":2012,"month":5,"date":8,"hours":20,"minutes":54,"seconds":22,"milliseconds":500,"utc":true},{"year":2012,"month":5,"date":10,"hours":15,"minutes":1,"seconds":52,"milliseconds":500,"utc":true}]}},
   "y":{"field":"lv","type":"quantitative","scale":{"domain":[1,100],"zero":false,"nice":false,"padding":0}},
   "text":{"field":"lv","type":"quantitative"}}},
 {"data":{"name":"stochTicks"},
  "transform":[{"filter":"datum.lv >= 100"}],
  "mark":{"type":"text","align":"left","baseline":"middle","dy":6.5,"font":"DejaVu Sans","fontSize":8,"fill":"#00FFFF","clip":false},
  "encoding":{
   "x":{"datum":{"year":2012,"month":5,"date":10,"hours":15,"minutes":28,"seconds":7,"milliseconds":500,"utc":true},"type":"temporal",
       "scale":{"type":"utc","padding":0,"domain":[{"year":2012,"month":5,"date":8,"hours":20,"minutes":54,"seconds":22,"milliseconds":500,"utc":true},{"year":2012,"month":5,"date":10,"hours":15,"minutes":1,"seconds":52,"milliseconds":500,"utc":true}]}},
   "y":{"field":"lv","type":"quantitative","scale":{"domain":[1,100],"zero":false,"nice":false,"padding":0}},
   "text":{"field":"lv","type":"quantitative"}}},
 {"data":{"name":"stochTicks"},
  "transform":[{"filter":"datum.lv <= 1"}],
  "mark":{"type":"text","align":"left","baseline":"middle","dy":-5.5,"font":"DejaVu Sans","fontSize":8,"fill":"#00FFFF","clip":false},
  "encoding":{
   "x":{"datum":{"year":2012,"month":5,"date":10,"hours":15,"minutes":28,"seconds":7,"milliseconds":500,"utc":true},"type":"temporal",
       "scale":{"type":"utc","padding":0,"domain":[{"year":2012,"month":5,"date":8,"hours":20,"minutes":54,"seconds":22,"milliseconds":500,"utc":true},{"year":2012,"month":5,"date":10,"hours":15,"minutes":1,"seconds":52,"milliseconds":500,"utc":true}]}},
   "y":{"field":"lv","type":"quantitative","scale":{"domain":[1,100],"zero":false,"nice":false,"padding":0}},
   "text":{"field":"lv","type":"quantitative"}}},
 {"data":{"name":"days"},
  "mark":{"type":"rule","color":"#2BD9D9","strokeDash":[3,2],"strokeWidth":1},
  "encoding":{"x":{"field":"t","type":"temporal",
       "scale":{"type":"utc","padding":0,"domain":[{"year":2012,"month":5,"date":8,"hours":20,"minutes":54,"seconds":22,"milliseconds":500,"utc":true},{"year":2012,"month":5,"date":10,"hours":15,"minutes":1,"seconds":52,"milliseconds":500,"utc":true}]},
       "axis":{"orient":"bottom","title":null,"values":[
         {"year":2012,"month":5,"date":8,"hours":21,"utc":true},{"year":2012,"month":5,"date":9,"hours":1,"utc":true},
         {"year":2012,"month":5,"date":9,"hours":5,"utc":true},{"year":2012,"month":5,"date":9,"hours":9,"utc":true},
         {"year":2012,"month":5,"date":9,"hours":13,"utc":true},{"year":2012,"month":5,"date":9,"hours":17,"utc":true},
         {"year":2012,"month":5,"date":9,"hours":21,"utc":true},{"year":2012,"month":5,"date":10,"hours":1,"utc":true}],
         "labelExpr":"utcFormat(datum.value,'%d %H')=='08 21' ? '8 May 2012' : utcFormat(datum.value,'%-d %b %H:%M')",
         "tickSize":4,"labelAlign":"left","labelBaseline":"top","labelPadding":1,"labelFlush":false,"labelOverlap":false}}}},
 {"data":{"values":[{}]},
  "mark":{"type":"text","text":"IFX Trader, © 2001-2012, MetaQuotes Software Corp.","align":"left","baseline":"alphabetic","dx":0.5,"font":"DejaVu Sans","fontSize":10,"fill":"#00FFFF"},
  "encoding":{
   "x":{"datum":{"year":2012,"month":5,"date":8,"hours":21,"utc":true},"type":"temporal",
       "scale":{"type":"utc","padding":0,"domain":[{"year":2012,"month":5,"date":8,"hours":20,"minutes":54,"seconds":22,"milliseconds":500,"utc":true},{"year":2012,"month":5,"date":10,"hours":15,"minutes":1,"seconds":52,"milliseconds":500,"utc":true}]}},
   "y":{"datum":4.5,"type":"quantitative","scale":{"domain":[1,100],"zero":false,"nice":false,"padding":0}}}},
 {"data":{"values":[{}]},
  "mark":{"type":"text","text":"mrenstein Stochastic - GO GREEN PIPS 67.3913 69.2308 51.3274 43.1452 11.9190","align":"left","baseline":"alphabetic","dx":3.5,"font":"DejaVu Sans","fontSize":8.5,"fill":"#00FFFF"},
  "encoding":{
   "x":{"datum":{"year":2012,"month":5,"date":8,"hours":21,"utc":true},"type":"temporal",
       "scale":{"type":"utc","padding":0,"domain":[{"year":2012,"month":5,"date":8,"hours":20,"minutes":54,"seconds":22,"milliseconds":500,"utc":true},{"year":2012,"month":5,"date":10,"hours":15,"minutes":1,"seconds":52,"milliseconds":500,"utc":true}]}},
   "y":{"datum":84.5,"type":"quantitative","scale":{"domain":[1,100],"zero":false,"nice":false,"padding":0}}}},
 {"data":{"name":"stoch"},
  "layer":[
  {"transform":[{"filter":"datum.tf=='H1' || datum.tf=='H4' || datum.tf=='D1'"}],
   "mark":{"type":"line","strokeWidth":1,"interpolate":"step-after","clip":true},
   "encoding":{
    "x":{"field":"t","type":"temporal",
       "scale":{"type":"utc","padding":0,"domain":[{"year":2012,"month":5,"date":8,"hours":20,"minutes":54,"seconds":22,"milliseconds":500,"utc":true},{"year":2012,"month":5,"date":10,"hours":15,"minutes":1,"seconds":52,"milliseconds":500,"utc":true}]}},
    "y":{"field":"v","type":"quantitative","scale":{"domain":[1,100],"zero":false,"nice":false,"padding":0}},
    "color":{"field":"tf","type":"nominal","scale":{"domain":["M15","M30","H1","H4","D1"],"range":["#FF0000","#FFFF00","#3EE83E","#FF00FF","#00FFFF"]}}}},
  {"transform":[{"filter":"datum.tf=='M15' || datum.tf=='M30'"}],
   "mark":{"type":"line","strokeWidth":1,"clip":true},
   "encoding":{
    "x":{"field":"t","type":"temporal",
       "scale":{"type":"utc","padding":0,"domain":[{"year":2012,"month":5,"date":8,"hours":20,"minutes":54,"seconds":22,"milliseconds":500,"utc":true},{"year":2012,"month":5,"date":10,"hours":15,"minutes":1,"seconds":52,"milliseconds":500,"utc":true}]}},
    "y":{"field":"v","type":"quantitative","scale":{"domain":[1,100],"zero":false,"nice":false,"padding":0}},
    "color":{"field":"tf","type":"nominal","scale":{"domain":["M15","M30","H1","H4","D1"],"range":["#FF0000","#FFFF00","#3EE83E","#FF00FF","#00FFFF"]}}}}
  ]}
 ]},
{"data":{"name":"legend"},
 "transform":[{"calculate":"format(datum.value,'.2f') + ' : ' + datum.tf","as":"label"}],
 "mark":{"type":"text","align":"right","baseline":"middle","font":"DejaVu Sans","fontSize":12},
 "encoding":{
  "x":{"datum":{"year":2012,"month":5,"date":10,"hours":14,"minutes":45,"utc":true},"type":"temporal",
       "scale":{"type":"utc","padding":0,"domain":[{"year":2012,"month":5,"date":8,"hours":20,"minutes":54,"seconds":22,"milliseconds":500,"utc":true},{"year":2012,"month":5,"date":10,"hours":15,"minutes":1,"seconds":52,"milliseconds":500,"utc":true}]}},
  "y":{"field":"tf","type":"nominal","axis":null,"scale":{"type":"point","domain":["M15","M30","H1","H4","D1"],"range":[12.7,76],"padding":0}},
  "text":{"field":"label","type":"nominal"},
  "color":{"field":"tf","type":"nominal","scale":{"domain":["M15","M30","H1","H4","D1"],"range":["#FF0000","#FFFF00","#3EE83E","#FF00FF","#00FFFF"]}}}}
],
"resolve":{"scale":{"y":"independent"}}
}
],
"resolve":{"scale":{"x":"shared"}}
}
